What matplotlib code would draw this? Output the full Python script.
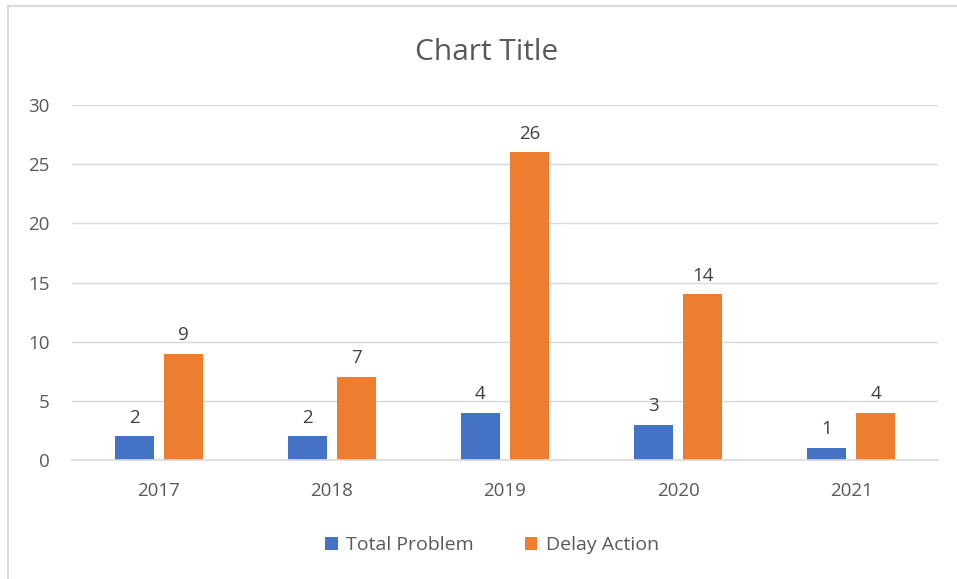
import matplotlib
matplotlib.use("Agg")
import matplotlib.pyplot as plt
import numpy as np
from matplotlib.lines import Line2D

years = ["2017", "2018", "2019", "2020", "2021"]
total_problem = [2, 2, 4, 3, 1]
delay_action = [9, 7, 26, 14, 4]
yticks = [0, 5, 10, 15, 20, 25, 30]

plt.rcParams['font.family'] = ['Open Sans', 'DejaVu Sans']
txt = '#595959'
blue = '#4472C4'
orange = '#ED7D31'

fig = plt.figure(figsize=(9.57, 5.79), dpi=100)
ax = fig.add_axes([72/957, 1-460/579, (938-72)/957, (460-105)/579])

x = np.arange(len(years))
w = 0.225
off = (w + 0.058) / 2
b1 = ax.bar(x - off, total_problem, w, color=blue, label='Total Problem')
b2 = ax.bar(x + off, delay_action, w, color=orange, label='Delay Action')
for bars, vals in ((b1, total_problem), (b2, delay_action)):
    for r, v in zip(bars, vals):
        ax.annotate(str(v), (r.get_x() + r.get_width()/2, v), xytext=(0, 7),
                    textcoords='offset points', ha='center', va='bottom',
                    fontsize=13.5, color='#404040')

ax.set_xlim(-0.5, len(years) - 0.5)
ax.set_ylim(0, 30)
ax.set_yticks(yticks)
ax.set_xticks(x)
ax.set_xticklabels(years)
ax.grid(axis='y', color='#d9d9d9', linewidth=1)
ax.set_axisbelow(True)
for s in ['top', 'right', 'left']:
    ax.spines[s].set_visible(False)
ax.spines['bottom'].set_color('#d9d9d9')
ax.spines['bottom'].set_linewidth(1.2)
ax.tick_params(axis='both', length=0, labelsize=13.5, labelcolor=txt)
ax.tick_params(axis='y', pad=16)
ax.tick_params(axis='x', pad=16)

fig.text(487/957, 1-52/579, 'Chart Title', ha='center', va='center', fontsize=21.5, color=txt)

leg = fig.legend(handles=[b1, b2], loc='center', bbox_to_anchor=(492/957, 1-545/579),
                 ncol=2, frameon=False, fontsize=14, handlelength=0.65, handleheight=0.65,
                 handletextpad=0.45, columnspacing=2.6)
for t in leg.get_texts():
    t.set_color(txt)

# chart border (left and top visible)
fig.add_artist(Line2D([8/957, 8/957], [0, 1-6/579], transform=fig.transFigure, color='#d9d9d9', lw=1.5))
fig.add_artist(Line2D([8/957, 1], [1-6/579, 1-6/579], transform=fig.transFigure, color='#d9d9d9', lw=1.5))

fig.savefig('out.png', dpi=100)
